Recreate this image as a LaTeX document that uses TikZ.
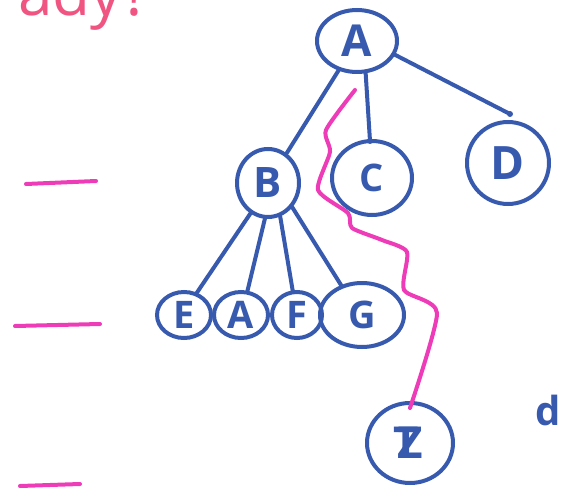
\documentclass[tikz,border=0pt]{standalone}
\usepackage{fontspec}
\setmainfont{Open Sans}
\usetikzlibrary{shapes.geometric,calc}
\definecolor{pen}{RGB}{55,90,175}
\definecolor{hl}{RGB}{238,60,185}
\definecolor{rd}{RGB}{240,85,130}
\tikzset{
  tn/.style={ellipse, draw=pen, line width=4pt, text=pen, inner sep=0pt, font=\fontsize{38}{38}\selectfont\bfseries},
  edge/.style={draw=pen, line width=4pt, line cap=round},
  hlmark/.style={draw=hl, line width=4pt, line cap=round, line join=round},
}
\begin{document}
\begin{tikzpicture}[x=1pt,y=-1pt]
\useasboundingbox (0,0) rectangle (564,497);
% cut-off heading
\node[text=rd, anchor=base east, inner sep=0pt, font=\fontsize{62}{62}\selectfont] (head) at (150,16) {ady?};
% nodes
\node[tn, minimum width=80pt, minimum height=62pt, font=\fontsize{44}{44}\selectfont\bfseries] (A) at (357,41) {A};
\node[tn, minimum width=62pt, minimum height=68pt, font=\fontsize{42}{42}\selectfont\bfseries] (B) at (268,183) {B};
\node[tn, minimum width=80pt, minimum height=74pt] (C) at (372,178) {C};
\node[tn, minimum width=82pt, minimum height=82pt, font=\fontsize{46}{46}\selectfont\bfseries] (D) at (508,163) {D};
\node[tn, minimum width=54pt, minimum height=46pt] (E) at (184,315) {E};
\node[tn, minimum width=54pt, minimum height=46pt] (A2) at (241,315) {A};
\node[tn, minimum width=50pt, minimum height=46pt] (F) at (297,315) {F};
\node[tn, minimum width=84pt, minimum height=64pt] (G) at (362,315) {G};
\node[tn, minimum width=86pt, minimum height=80pt, font=\fontsize{44}{44}\selectfont\bfseries] (Z) at (410,443) {\rlap{\kern-4pt T}Z};
\node[text=pen, font=\fontsize{40}{40}\selectfont\bfseries] (d) at (548,410) {d};
% edges
\coordinate (Dtip) at (510,114);
\coordinate (Ctip) at (370,141);
\draw[edge] (A) -- (B);
\draw[edge] (A.285) -- (Ctip);
\fill[pen] (Ctip) circle (3);
\draw[edge] (A.-20) -- (Dtip);
\fill[pen] (Dtip) circle (3);
\draw[edge] (B.240) -- (E.60);
\draw[edge] (B.265) -- (A2.75);
\draw[edge] (B.290) -- (F.100);
\draw[edge] (B.315) -- (G.125);
% pink dashes
\coordinate (m1a) at (26,184); \coordinate (m1b) at (96,181);
\coordinate (m2a) at (15,326); \coordinate (m2b) at (100,324);
\coordinate (m3a) at (20,486); \coordinate (m3b) at (80,484);
\draw[hlmark] (m1a) -- (m1b);
\draw[hlmark] (m2a) -- (m2b);
\draw[hlmark] (m3a) -- (m3b);
% pink path
\coordinate (p0) at (355,90);
\draw[hlmark] plot[smooth, tension=0.4] coordinates {(355,90) (326,130) (330,152) (318,190) (348,213) (352,228) (382,240) (407,252) (404,290) (437,313) (410,408)};
\end{tikzpicture}
\end{document}
